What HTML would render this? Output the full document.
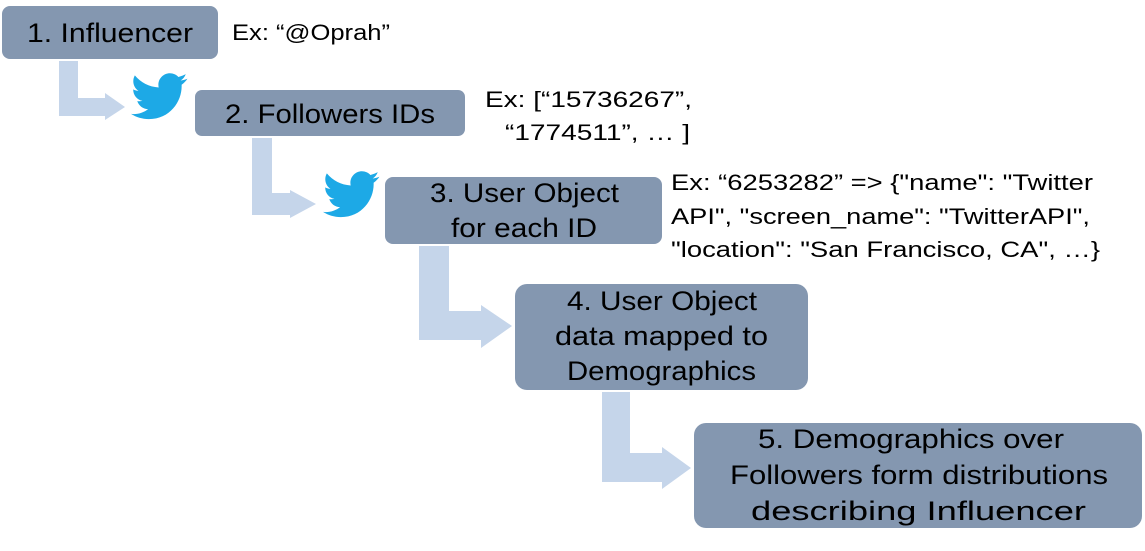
<!DOCTYPE html>
<html><head><meta charset="utf-8"><style>
html,body{margin:0;padding:0;background:#fff;}
svg{display:block;}
text{font-family:"Liberation Sans",sans-serif;fill:#000;}
.b{font-size:27px;}
.e{font-size:22px;}
</style></head><body>
<svg width="1145" height="551" viewBox="0 0 1145 551" xmlns="http://www.w3.org/2000/svg">
<defs>
<path id="bird" d="M23.954 4.569c-.885.389-1.83.654-2.825.775 1.014-.611 1.794-1.574 2.163-2.723-.951.555-2.005.959-3.127 1.184-.896-.959-2.173-1.559-3.591-1.559-2.717 0-4.92 2.203-4.92 4.917 0 .39.045.765.127 1.124C7.691 8.094 4.066 6.13 1.64 3.161c-.427.722-.666 1.561-.666 2.475 0 1.71.87 3.213 2.188 4.096-.807-.026-1.566-.248-2.228-.616v.061c0 2.385 1.693 4.374 3.946 4.827-.413.111-.849.171-1.296.171-.314 0-.615-.03-.916-.086.631 1.953 2.445 3.377 4.604 3.417-1.680 1.319-3.809 2.105-6.102 2.105-.39 0-.779-.023-1.170-.067 2.189 1.394 4.768 2.209 7.557 2.209 9.054 0 13.999-7.496 13.999-13.986 0-.209 0-.42-.015-.63.961-.689 1.8-1.56 2.46-2.548l-.047-.02z" fill="#1DA9E6"/>
</defs>
<g fill="#C5D5EA">
<path d="M59 61H78V98H105V93L125 107L105 120V116H59Z"/>
<path d="M252 138H272V193H290V190L316 204L290 218V215H252Z"/>
<path d="M419 246H449V311H481V305L512 326L481 348V340H419Z"/>
<path d="M602 392H630V453H662V447L691 468L662 489V482H602Z"/>
</g>
<g fill="#8497B0">
<rect x="2" y="6" width="216" height="53" rx="8"/>
<rect x="195" y="90" width="270" height="46" rx="7"/>
<rect x="385" y="177" width="277" height="67" rx="8"/>
<rect x="515" y="284" width="293" height="106" rx="12"/>
<rect x="694" y="423" width="448" height="105" rx="12"/>
</g>
<use href="#bird" transform="translate(131,68) scale(2.35)"/>
<use href="#bird" transform="translate(323,166) scale(2.35)"/>
<g class="b" lengthAdjust="spacingAndGlyphs">
<text x="27" y="42" textLength="166" lengthAdjust="spacingAndGlyphs">1. Influencer</text>
<text x="225" y="123" textLength="210" lengthAdjust="spacingAndGlyphs">2. Followers IDs</text>
<text x="430" y="202" textLength="189" lengthAdjust="spacingAndGlyphs">3. User Object</text>
<text x="451" y="237" textLength="146" lengthAdjust="spacingAndGlyphs">for each ID</text>
<text x="567" y="310" textLength="190" lengthAdjust="spacingAndGlyphs">4. User Object</text>
<text x="555" y="345" textLength="213" lengthAdjust="spacingAndGlyphs">data mapped to</text>
<text x="567" y="380" textLength="189" lengthAdjust="spacingAndGlyphs">Demographics</text>
<text x="758" y="448" textLength="306" lengthAdjust="spacingAndGlyphs">5. Demographics over</text>
<text x="730" y="484" textLength="378" lengthAdjust="spacingAndGlyphs">Followers form distributions</text>
<text x="751" y="520" textLength="335" lengthAdjust="spacingAndGlyphs">describing Influencer</text>
</g>
<g class="e">
<text x="232" y="40" textLength="158" lengthAdjust="spacingAndGlyphs">Ex: “@Oprah”</text>
<text x="485" y="107" textLength="207" lengthAdjust="spacingAndGlyphs">Ex: [“15736267”,</text>
<text x="505" y="140" textLength="185" lengthAdjust="spacingAndGlyphs">“1774511”,  …  ]</text>
<text x="671" y="190" textLength="422" lengthAdjust="spacingAndGlyphs">Ex: “6253282” =&gt; {"name": "Twitter</text>
<text x="671" y="224" textLength="419" lengthAdjust="spacingAndGlyphs">API", "screen_name": "TwitterAPI",</text>
<text x="671" y="257" textLength="429" lengthAdjust="spacingAndGlyphs">"location": "San Francisco, CA", …}</text>
</g>
</svg>
</body></html>
